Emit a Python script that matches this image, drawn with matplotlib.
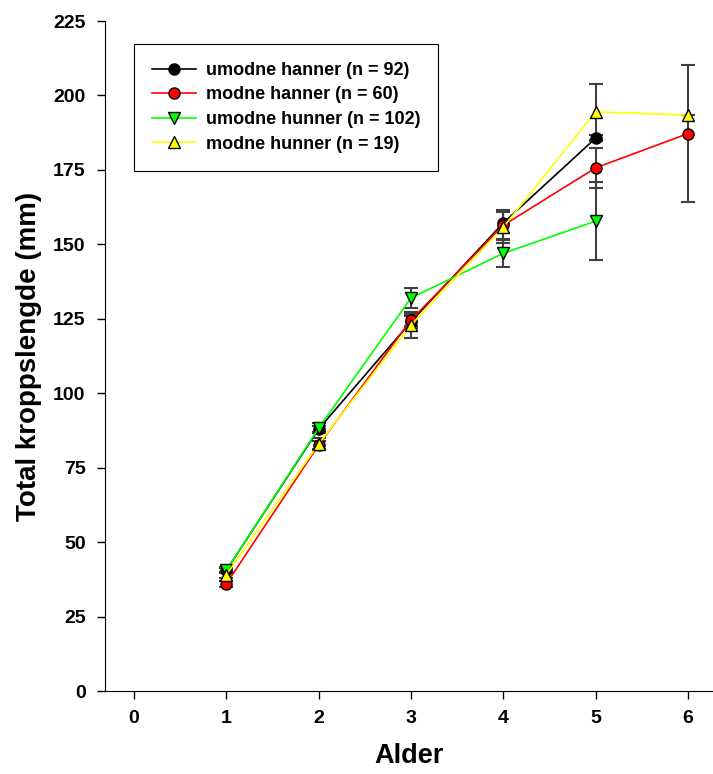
import matplotlib
matplotlib.use('Agg')
import matplotlib.pyplot as plt

plt.rcParams['font.family'] = ['Liberation Sans', 'DejaVu Sans']
plt.rcParams['font.weight'] = 'bold'

# mean body length per age with error
age_black = [1, 2, 3, 4, 5]
len_black = [40.5, 88.0, 124.0, 157.2, 185.7]
err_black = [1.0, 1.0, 2.0, 3.5, 1.0]

age_red = [1, 2, 3, 4, 5, 6]
len_red = [36.0, 82.6, 124.6, 156.4, 175.7, 187.2]
err_red = [1.0, 1.5, 2.0, 5.0, 6.7, 23.0]

age_green = [1, 2, 3, 4, 5]
len_green = [40.5, 88.3, 132.0, 147.0, 157.8]
err_green = [0.8, 1.7, 3.3, 4.7, 13.0]

age_yellow = [1, 2, 3, 4, 5, 6]
len_yellow = [39.0, 83.0, 122.9, 155.8, 194.5, 193.4]
err_yellow = [1.0, 1.8, 4.3, 5.5, 9.3, 0.0]

labels = ['umodne hanner (n = 92)', 'modne hanner (n = 60)',
          'umodne hunner (n = 102)', 'modne hunner (n = 19)']

fig = plt.figure(figsize=(7.13, 7.74), dpi=100)
ax = fig.add_axes([105/713, 1 - 691/774, (713 - 105)/713, (691 - 21)/774])

series = [
    (age_black, len_black, err_black, 'black', 'o', labels[0]),
    (age_red, len_red, err_red, '#ff0000', 'o', labels[1]),
    (age_green, len_green, err_green, '#00ff00', 'v', labels[2]),
    (age_yellow, len_yellow, err_yellow, '#ffff00', '^', labels[3]),
]

for x, y, e, c, m, lab in series:
    ax.errorbar(x, y, yerr=e, fmt='none', ecolor='#404040', elinewidth=1.5,
                capsize=4.7, capthick=1.5, zorder=2)
for i, (x, y, e, c, m, lab) in enumerate(series):
    ax.plot(x, y, color=c, lw=1.2, marker=m, markersize=8 if m == 'o' else 9,
            markerfacecolor=c, markeredgecolor='black', markeredgewidth=1,
            label=lab, zorder=3 + i)

ax.set_xlim(-0.314, 6.27)
ax.set_ylim(0, 225)
ax.set_xticks(range(0, 7))
ax.set_yticks(range(0, 226, 25))
for s in ['top', 'right']:
    ax.spines[s].set_visible(False)
ax.tick_params(direction='out', length=6, width=1, labelsize=14, pad=8)
for t in ax.get_xticklabels() + ax.get_yticklabels():
    t.set_fontweight('bold')

ax.set_xlabel('Alder', fontsize=19.5, fontweight='bold', labelpad=11)
ax.set_ylabel('Total kroppslengde (mm)', fontsize=20, fontweight='bold', labelpad=8)

leg = ax.legend(loc='upper left', bbox_to_anchor=(0.047, 0.966), borderaxespad=0,
                fancybox=False, edgecolor='black', framealpha=1,
                prop={'size': 13, 'weight': 'bold'}, handlelength=2.45,
                handletextpad=0.55, borderpad=1.0, labelspacing=0.42)
leg.get_frame().set_linewidth(0.8)

fig.savefig('out.png', dpi=100)
